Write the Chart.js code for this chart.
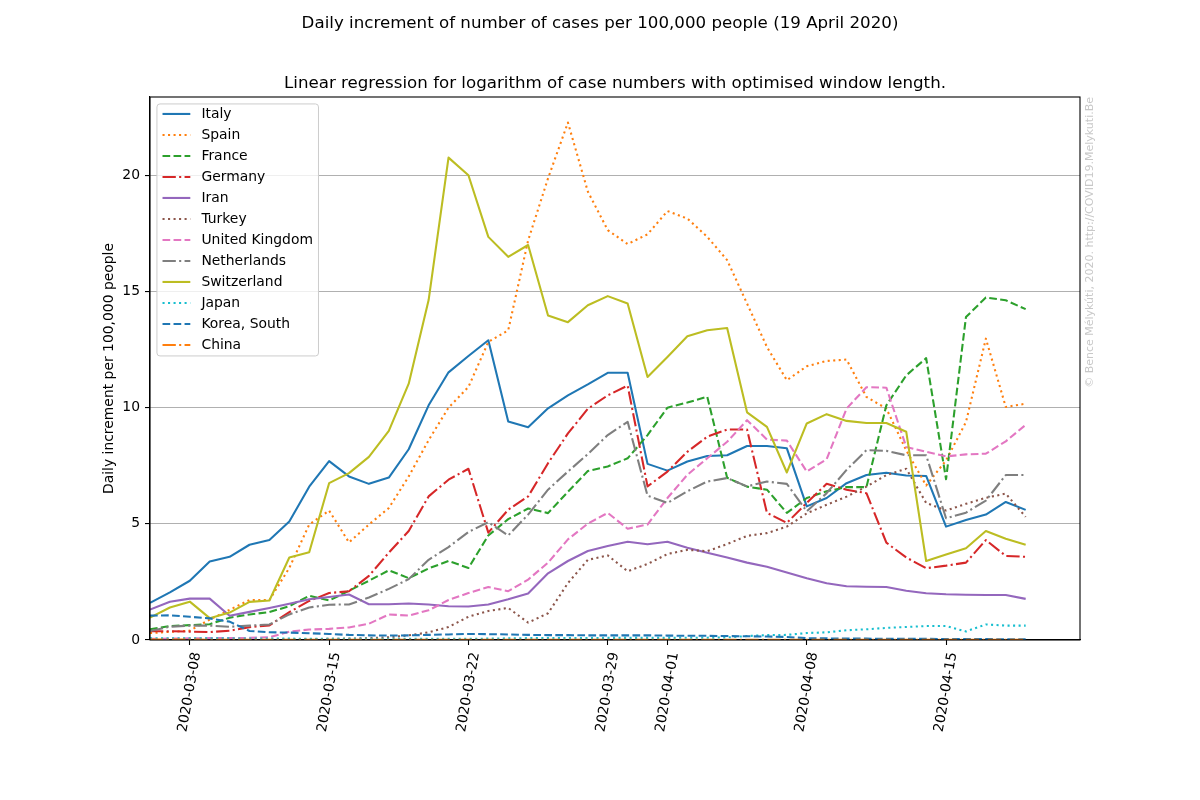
<!DOCTYPE html>
<html><head><meta charset="utf-8">
<script src="https://cdn.jsdelivr.net/npm/chart.js@4.4.0/dist/chart.umd.min.js"></script>
<style>html,body{margin:0;padding:0;background:#fff}canvas{display:block}</style>
</head><body>
<canvas id="c" width="1200" height="800"></canvas>
<script>
const dates = ['2020-03-06','2020-03-07','2020-03-08','2020-03-09','2020-03-10','2020-03-11','2020-03-12','2020-03-13','2020-03-14','2020-03-15',
'2020-03-16','2020-03-17','2020-03-18','2020-03-19','2020-03-20','2020-03-21','2020-03-22','2020-03-23','2020-03-24','2020-03-25',
'2020-03-26','2020-03-27','2020-03-28','2020-03-29','2020-03-30','2020-03-31','2020-04-01','2020-04-02','2020-04-03','2020-04-04',
'2020-04-05','2020-04-06','2020-04-07','2020-04-08','2020-04-09','2020-04-10','2020-04-11','2020-04-12','2020-04-13','2020-04-14',
'2020-04-15','2020-04-16','2020-04-17','2020-04-18','2020-04-19'];
const xTickLabels = ['2020-03-08','2020-03-15','2020-03-22','2020-03-29','2020-04-01','2020-04-08','2020-04-15'];
const yTickValues = [0, 5, 10, 15, 20];

const italy = [1.60,2.05,2.55,3.38,3.58,4.10,4.30,5.10,6.60,7.70,7.04,6.72,6.99,8.21,10.10,11.52,12.22,12.90,9.40,9.16,9.97,10.53,11.00,11.50,11.50,7.58,7.29,7.68,7.92,7.95,8.35,8.35,8.25,5.75,6.11,6.75,7.10,7.20,7.08,7.06,4.88,5.16,5.40,5.94,5.60];
const spain = [0.30,0.35,0.40,0.88,1.30,1.72,1.72,3.10,4.97,5.57,4.20,4.97,5.68,7.04,8.60,10.00,10.89,12.83,13.33,17.20,19.87,22.27,19.30,17.64,17.04,17.46,18.46,18.14,17.35,16.35,14.48,12.61,11.18,11.78,12.01,12.07,10.46,9.96,8.16,6.65,7.73,9.38,12.97,10.03,10.17];
const france = [0.46,0.60,0.64,0.68,0.96,1.10,1.20,1.46,1.90,1.70,2.12,2.55,3.00,2.66,3.08,3.40,3.10,4.50,5.20,5.66,5.46,6.38,7.27,7.47,7.82,8.82,10.00,10.22,10.47,6.98,6.60,6.47,5.47,6.11,6.40,6.58,6.58,10.10,11.39,12.13,6.92,13.90,14.74,14.62,14.24];
const germany = [0.38,0.38,0.36,0.34,0.40,0.55,0.63,1.20,1.68,2.02,2.10,2.76,3.76,4.69,6.18,6.90,7.37,4.62,5.61,6.18,7.61,8.89,9.95,10.53,10.95,6.61,7.25,8.10,8.75,9.06,9.06,5.47,5.04,5.90,6.72,6.47,6.32,4.19,3.55,3.09,3.20,3.33,4.30,3.62,3.58];
const iran = [1.31,1.65,1.78,1.78,1.04,1.21,1.38,1.56,1.75,1.85,1.96,1.54,1.54,1.57,1.53,1.45,1.44,1.53,1.75,2.00,2.87,3.40,3.83,4.05,4.23,4.12,4.23,3.97,3.76,3.55,3.33,3.15,2.91,2.66,2.44,2.31,2.29,2.28,2.12,2.01,1.97,1.95,1.94,1.94,1.77];
const turkey = [0.00,0.00,0.00,0.00,0.00,0.00,0.01,0.02,0.03,0.05,0.06,0.08,0.12,0.20,0.33,0.56,1.00,1.25,1.38,0.75,1.15,2.45,3.45,3.64,2.96,3.27,3.70,3.88,3.82,4.13,4.48,4.60,4.88,5.45,5.82,6.17,6.60,7.10,7.37,5.90,5.57,5.86,6.12,6.30,5.30];
const unitedKingdom = [0.05,0.06,0.07,0.08,0.08,0.09,0.12,0.36,0.45,0.48,0.54,0.70,1.10,1.05,1.28,1.72,2.02,2.28,2.10,2.60,3.33,4.33,5.01,5.47,4.79,4.97,6.11,7.11,7.82,8.53,9.46,8.63,8.58,7.25,7.78,9.96,10.88,10.86,8.31,8.10,7.90,7.99,8.02,8.55,9.26];
const netherlands = [0.39,0.57,0.62,0.62,0.57,0.62,0.67,1.10,1.40,1.52,1.53,1.83,2.20,2.62,3.45,4.00,4.65,5.07,4.50,5.40,6.47,7.25,8.00,8.82,9.39,6.21,5.90,6.40,6.82,6.97,6.61,6.82,6.72,5.54,6.32,7.32,8.17,8.14,7.95,7.95,5.24,5.48,6.00,7.10,7.10];
const switzerland = [0.96,1.40,1.65,0.94,1.18,1.64,1.70,3.55,3.78,6.75,7.18,7.88,9.00,11.03,14.63,20.76,20.00,17.35,16.49,17.00,13.97,13.68,14.41,14.80,14.48,11.32,12.18,13.07,13.33,13.43,9.80,9.17,7.21,9.32,9.72,9.43,9.34,9.34,8.96,3.40,3.68,3.95,4.69,4.36,4.10];
const japan = [0.07,0.07,0.07,0.07,0.07,0.06,0.06,0.06,0.05,0.05,0.05,0.05,0.05,0.05,0.05,0.05,0.05,0.06,0.07,0.08,0.08,0.08,0.08,0.09,0.09,0.09,0.09,0.10,0.10,0.11,0.17,0.21,0.22,0.30,0.33,0.42,0.46,0.52,0.56,0.60,0.60,0.37,0.67,0.62,0.62];
const koreaSouth = [1.05,1.06,1.00,0.93,0.79,0.39,0.33,0.32,0.29,0.26,0.22,0.20,0.19,0.20,0.22,0.24,0.26,0.25,0.24,0.22,0.21,0.21,0.20,0.20,0.20,0.20,0.19,0.18,0.18,0.17,0.16,0.15,0.13,0.08,0.07,0.06,0.06,0.05,0.05,0.05,0.04,0.04,0.04,0.03,0.03];
const china = [0.02,0.02,0.02,0.01,0.01,0.01,0.01,0.01,0.01,0.01,0.01,0.01,0.01,0.01,0.01,0.01,0.01,0.01,0.01,0.01,0.01,0.01,0.01,0.01,0.01,0.01,0.01,0.01,0.01,0.01,0.01,0.01,0.01,0.01,0.01,0.01,0.01,0.01,0.01,0.01,0.01,0.01,0.01,0.01,0.01];

const seriesNames = ['Italy','Spain','France','Germany','Iran','Turkey','United Kingdom','Netherlands','Switzerland','Japan','Korea, South','China'];
const seriesValues = [italy, spain, france, germany, iran, turkey, unitedKingdom, netherlands, switzerland, japan, koreaSouth, china];
const seriesColors = ['#1f77b4','#ff7f0e','#2ca02c','#d62728','#9467bd','#8c564b','#e377c2','#7f7f7f','#bcbd22','#17becf','#1f77b4','#ff7f0e'];
const seriesStyles = ['solid','dotted','dashed','dashdot','solid','dotted','dashed','dashdot','solid','dotted','dashed','dashdot'];

const LW = 2.08;
const dashes = {solid: [], dotted: [LW, LW*1.65], dashed: [LW*3.7, LW*1.6], dashdot: [LW*6.4, LW*1.6, LW, LW*1.6]};
const FONT = '"DejaVu Sans", "Liberation Sans", sans-serif';
const FS = 13.9;

const datasets = seriesNames.map((name, k) => ({
  label: name,
  data: seriesValues[k].map((v, i) => ({x: i, y: v})),
  borderColor: seriesColors[k],
  backgroundColor: seriesColors[k],
  borderWidth: LW,
  borderDash: dashes[seriesStyles[k]],
  borderCapStyle: 'butt',
  borderJoinStyle: 'round',
  pointRadius: 0,
  fill: false,
  tension: 0,
  order: seriesNames.length - k
}));

const decorPlugin = {
  id: 'decor',
  afterDatasetsDraw(chart) {
    const ctx = chart.ctx, ca = chart.chartArea;
    ctx.save();
    ctx.strokeStyle = '#000'; ctx.lineWidth = 1.1;
    ctx.strokeRect(ca.left, ca.top, ca.right - ca.left, ca.bottom - ca.top);
    ctx.font = FS + 'px ' + FONT;
    const ds = chart.data.datasets;
    const maxW = Math.max(...ds.map(d => ctx.measureText(d.label).width));
    const pad = 0.4 * FS, handle = 2 * FS, tpad = 0.8 * FS, rowH = 21;
    const L = ca.left + 0.5 * FS, T = ca.top + 0.5 * FS;
    const W = pad + handle + tpad + maxW + pad, H = rowH * ds.length;
    const r = 3;
    ctx.beginPath();
    ctx.moveTo(L + r, T); ctx.lineTo(L + W - r, T); ctx.arcTo(L + W, T, L + W, T + r, r);
    ctx.lineTo(L + W, T + H - r); ctx.arcTo(L + W, T + H, L + W - r, T + H, r);
    ctx.lineTo(L + r, T + H); ctx.arcTo(L, T + H, L, T + H - r, r);
    ctx.lineTo(L, T + r); ctx.arcTo(L, T, L + r, T, r); ctx.closePath();
    ctx.fillStyle = 'rgba(255,255,255,0.8)'; ctx.fill();
    ctx.strokeStyle = '#cccccc'; ctx.lineWidth = 1; ctx.stroke();
    ds.forEach((d, i) => {
      const cy = T + 10 + rowH * i;
      ctx.beginPath();
      ctx.setLineDash(d.borderDash || []);
      ctx.lineCap = 'butt';
      ctx.strokeStyle = d.borderColor; ctx.lineWidth = LW;
      ctx.moveTo(L + pad, cy); ctx.lineTo(L + pad + handle, cy); ctx.stroke();
      ctx.setLineDash([]);
      ctx.fillStyle = '#000'; ctx.textAlign = 'left'; ctx.textBaseline = 'middle';
      ctx.fillText(d.label, L + pad + handle + tpad, cy);
    });
    ctx.restore();
  },
  afterDraw(chart) {
    const ctx = chart.ctx, ca = chart.chartArea;
    ctx.save();
    ctx.fillStyle = '#000';
    ctx.textAlign = 'center'; ctx.textBaseline = 'alphabetic';
    ctx.font = '16.67px ' + FONT;
    ctx.fillText('Daily increment of number of cases per 100,000 people (19 April 2020)', chart.width / 2, 28);
    ctx.fillText('Linear regression for logarithm of case numbers with optimised window length.', (ca.left + ca.right) / 2, ca.top - 9);
    ctx.translate(ca.right + 10, ca.top);
    ctx.rotate(-Math.PI / 2);
    ctx.font = '11px ' + FONT;
    ctx.fillStyle = '#c8c8c8';
    ctx.textAlign = 'right'; ctx.textBaseline = 'middle';
    ctx.fillText('\u00a9 Bence M\u00e9lyk\u00fati, 2020. http://COVID19.Melykuti.Be', 0, 0);
    ctx.restore();
  }
};

new Chart(document.getElementById('c'), {
  type: 'line',
  data: {datasets},
  options: {
    responsive: false,
    animation: false,
    events: [],
    devicePixelRatio: 1,
    layout: {padding: {left: 0, right: 120, top: 97, bottom: 0}},
    plugins: {legend: {display: false}, tooltip: {enabled: false}, title: {display: false}},
    scales: {
      x: {
        type: 'linear', min: 0, max: 46.73,
        afterBuildTicks: s => { s.ticks = xTickLabels.map(l => ({value: dates.indexOf(l)})); },
        afterFit: s => { s.height = 160; },
        ticks: {autoSkip: false, minRotation: 80, maxRotation: 80, color: '#000', padding: 6, labelOffset: 7,
          font: {family: FONT, size: FS}, callback: (v, i) => xTickLabels[i]},
        grid: {drawOnChartArea: false, drawTicks: true, tickLength: 5, tickColor: '#000', tickWidth: 1.1},
        border: {display: true, color: '#000', width: 1.1}
      },
      y: {
        type: 'linear', min: 0, max: 23.37,
        afterBuildTicks: s => { s.ticks = yTickValues.map(v => ({value: v})); },
        afterFit: s => { s.width = 150; },
        ticks: {color: '#000', padding: 5, font: {family: FONT, size: FS}, callback: v => String(v)},
        grid: {color: '#b0b0b0', lineWidth: 1.1, drawTicks: true, tickLength: 5, tickColor: '#000', tickWidth: 1.1},
        border: {display: true, color: '#000', width: 1.1},
        title: {display: true, text: 'Daily increment per 100,000 people', color: '#000',
          font: {family: FONT, size: FS}, padding: {top: 101, bottom: 0}}
      }
    }
  },
  plugins: [decorPlugin]
});
</script>
</body></html>
